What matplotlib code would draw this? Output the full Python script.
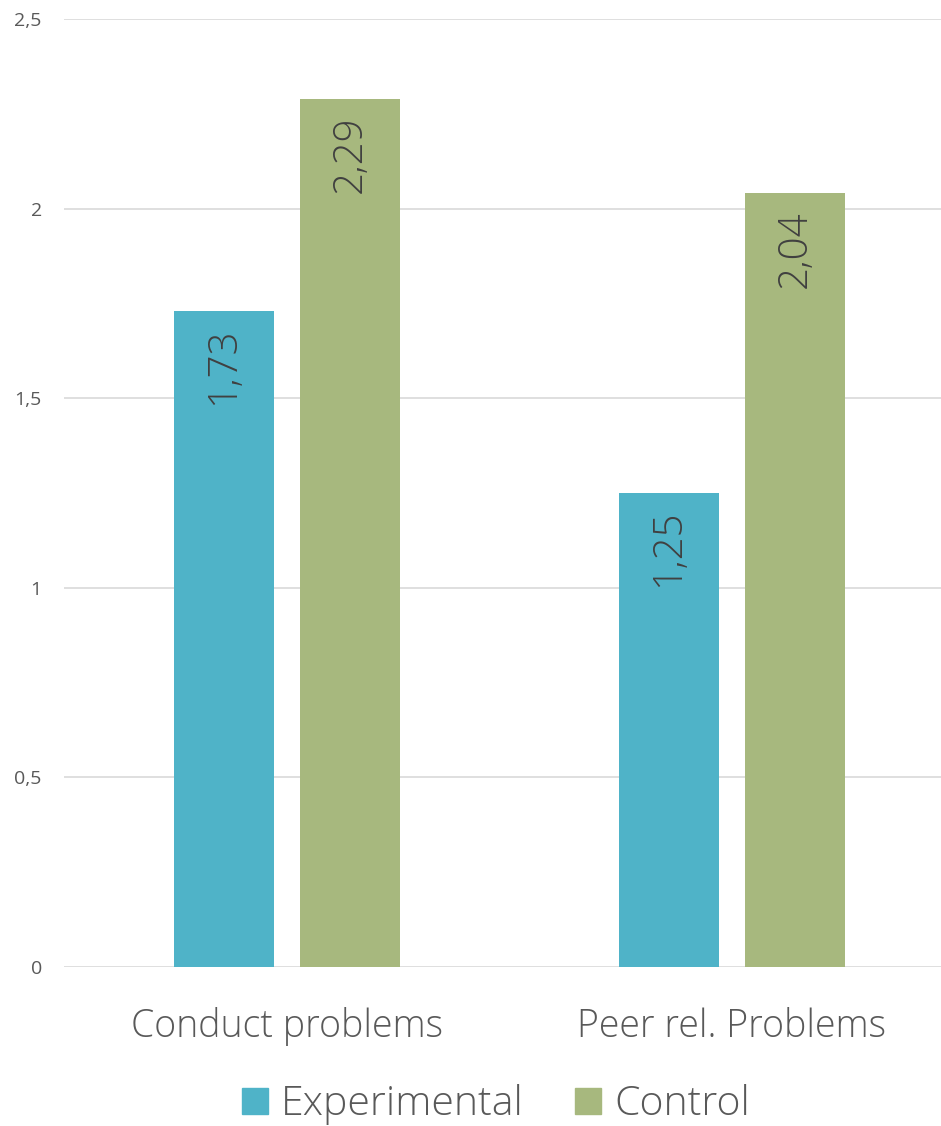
import matplotlib
matplotlib.use("Agg")
from matplotlib import pyplot as plt
from matplotlib.patches import Patch

categories = ["Conduct problems", "Peer rel. Problems"]
experimental = [1.73, 1.25]
control = [2.29, 2.04]
series_names = ["Experimental", "Control"]
y_ticks = [0, 0.5, 1, 1.5, 2, 2.5]

teal = "#4FB3C8"
green = "#A7B87E"
text_grey = "#595959"

plt.rcParams["font.family"] = ["Open Sans", "DejaVu Sans"]

fig = plt.figure(figsize=(9.41, 11.26), dpi=100)
ax = fig.add_axes([0.068, 0.1412, 0.932, 0.8419])

x = list(range(len(categories)))
w = 0.225
off = 0.142
ax.bar([i - off for i in x], experimental, w, color=teal, zorder=3)
ax.bar([i + off for i in x], control, w, color=green, zorder=3)

# value labels, rotated, just under the top of each bar
for vals, sign in ((experimental, -1), (control, 1)):
    for i, v in enumerate(vals):
        ax.annotate(f"{v:.2f}".replace(".", ","), (i + sign * off, v),
                    xytext=(0, -12), textcoords="offset points",
                    rotation=90, ha="center", va="top",
                    fontsize=29, color="#404040", fontweight="light", zorder=4)

ax.set_xlim(-0.501, 1.47)
ax.set_ylim(0, 2.5)
ax.set_yticks(y_ticks)
ax.set_yticklabels([f"{t:g}".replace(".", ",") for t in y_ticks])
ax.set_xticks(x)
ax.set_xticklabels(categories, fontsize=27, color=text_grey, fontweight="light")
ax.tick_params(axis="y", length=0, labelsize=14, labelcolor=text_grey, pad=16)
ax.tick_params(axis="x", length=0, pad=29)
ax.grid(axis="y", color="#D9D9D9", linewidth=1.2, zorder=0)
for s in ax.spines.values():
    s.set_visible(False)

handles = [Patch(color=teal), Patch(color=green)]
fig.legend(handles, series_names, loc="center", bbox_to_anchor=(0.527, 0.019),
           ncol=2, frameon=False, labelcolor=text_grey,
           handlelength=0.63, handleheight=0.6, handletextpad=0.32,
           columnspacing=1.25, prop={"weight": "light", "size": 29.5})

fig.savefig("out.png", dpi=100)
